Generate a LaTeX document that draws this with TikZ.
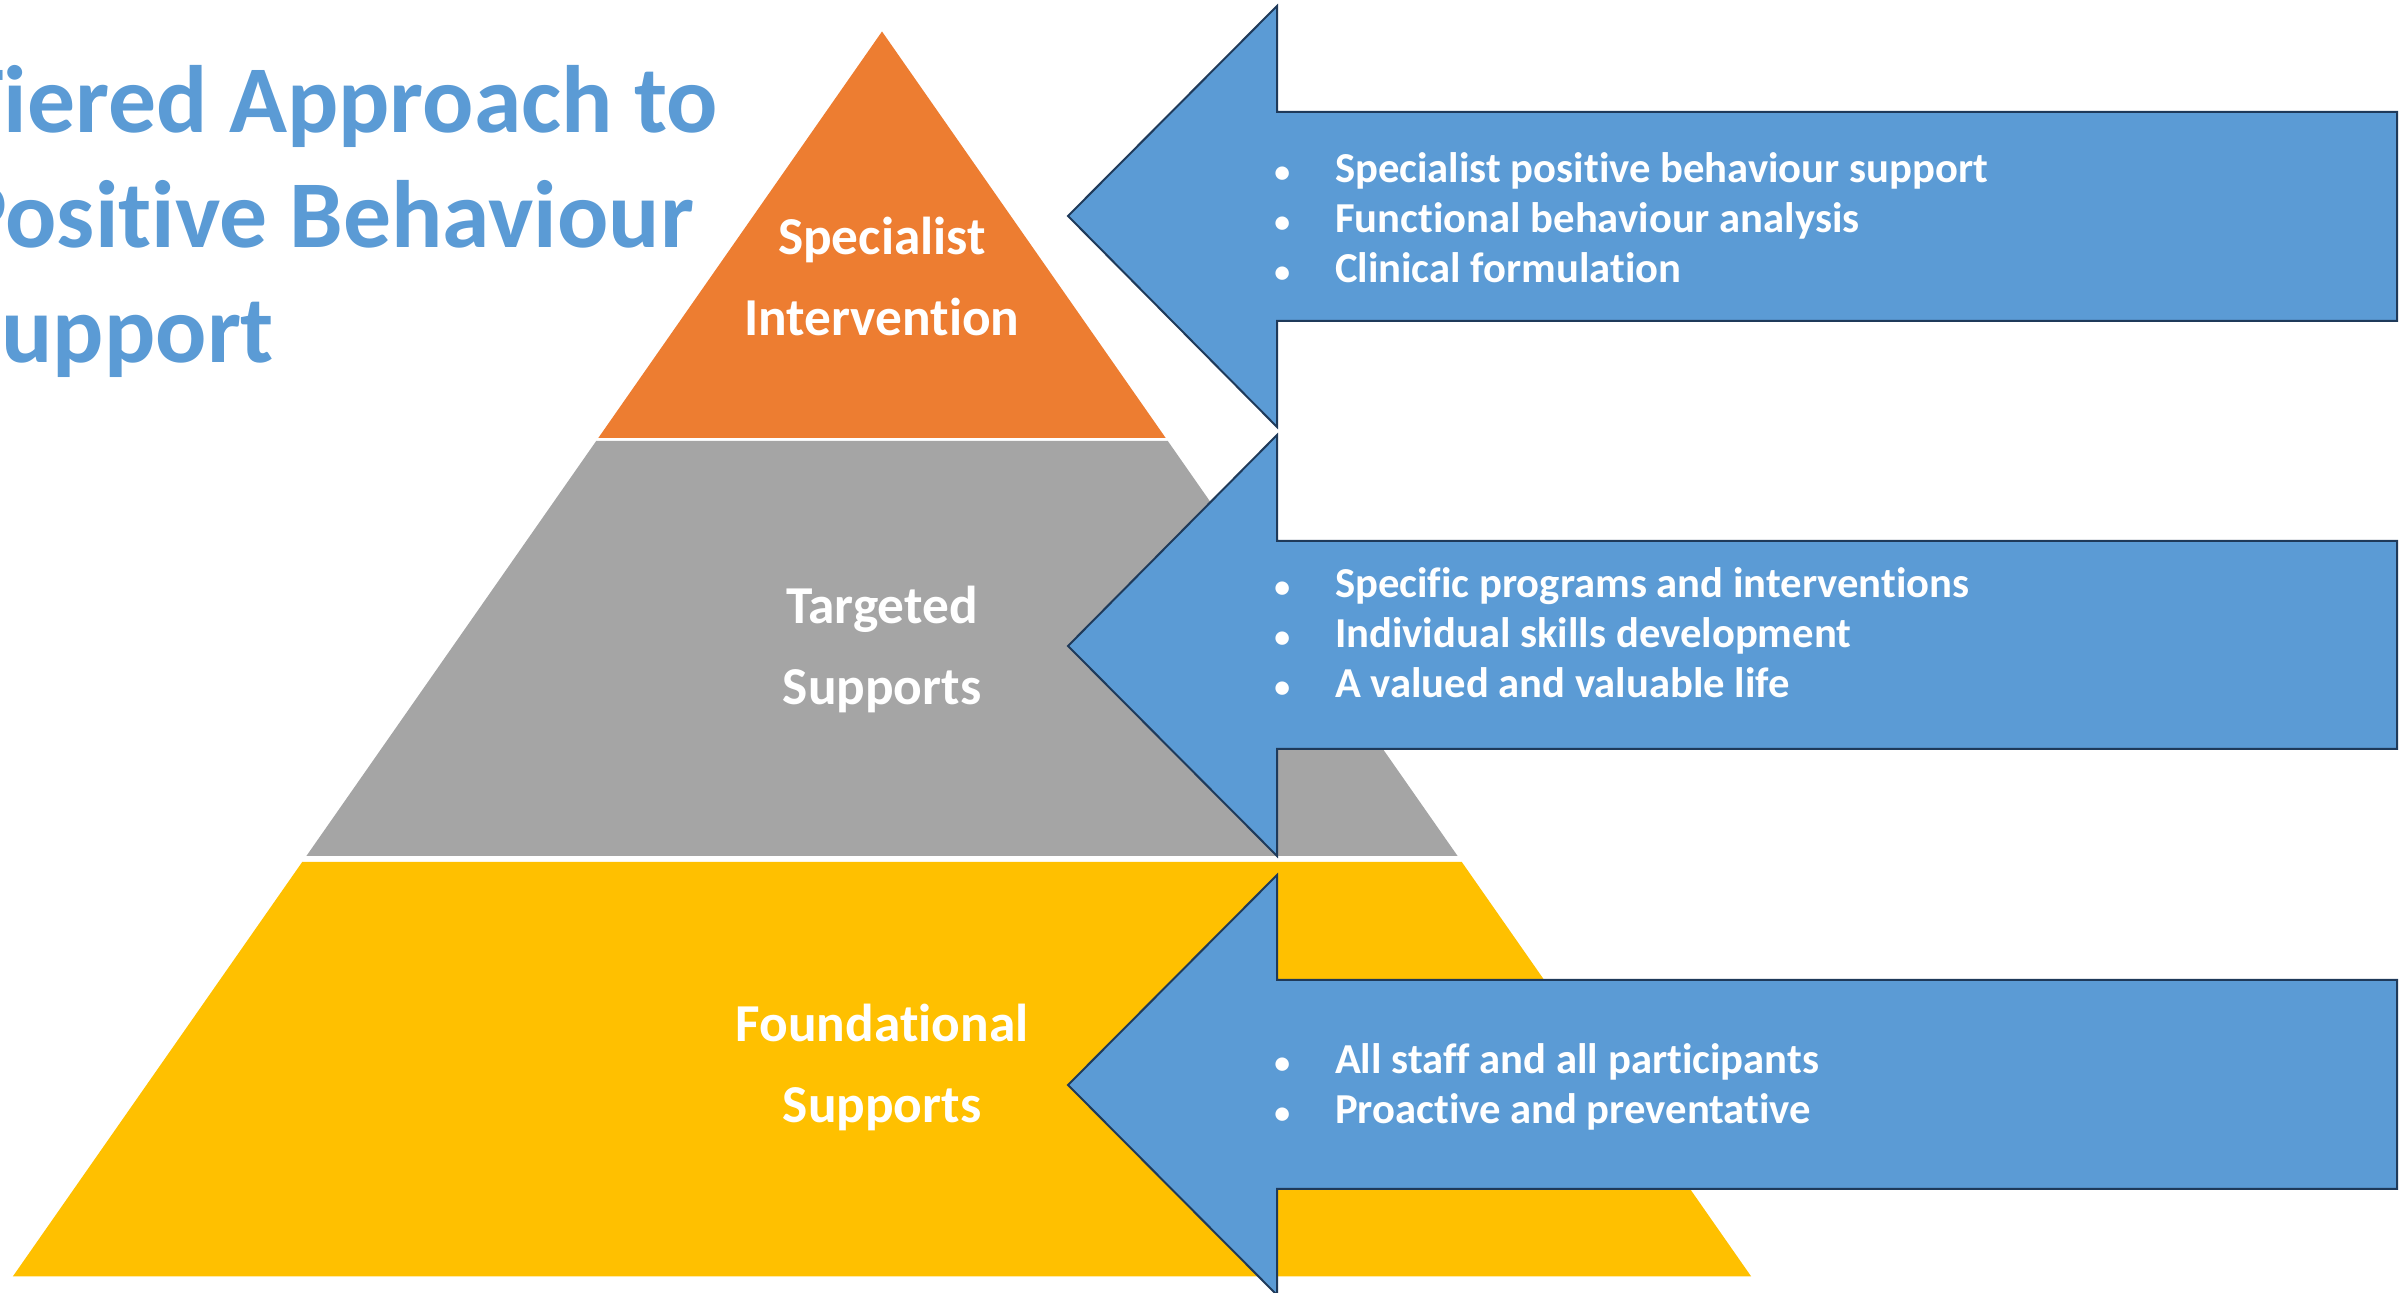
\documentclass[tikz,border=0pt]{standalone}
\usepackage{fontspec}
\setmainfont{Carlito}[RawFeature=-liga]
\definecolor{tierorange}{HTML}{ED7D31}
\definecolor{tiergrey}{HTML}{A5A5A5}
\definecolor{tieryellow}{HTML}{FFC000}
\definecolor{arrowblue}{HTML}{5B9BD5}
\definecolor{arrowline}{HTML}{1F3A5A}
\tikzset{
  tierlabel/.style={text=white, align=center, inner sep=0pt, font=\fontsize{16}{24.3}\selectfont\bfseries},
  titleline/.style={text=arrowblue, anchor=base west, inner sep=0pt, font=\fontsize{28.7}{34.5}\selectfont\bfseries},
  bulletlist/.style={text=white, anchor=base west, inner sep=0pt, font=\fontsize{12.8}{15}\selectfont\bfseries},
  bluearrow/.style={fill=arrowblue, draw=arrowline, line width=0.6pt, line join=miter}
}
\newcommand{\listdot}{\makebox[4.5pt][c]{\fontsize{9.5}{9.5}\selectfont\textbullet}}
\newcommand{\itemlist}[1]{\begin{tabular}[t]{@{}l@{\hspace{13.6pt}}l@{}}#1\end{tabular}}

\begin{document}
\begin{tikzpicture}[x=0.3pt,y=-0.3pt]
		\clip (0,0) rectangle (2399,1293); %marco
		\fill[tierorange] (882,31.5) -- (1165.7,438) -- (598.3,438) -- cycle; %nivel superior
		\fill[tiergrey] (596.2,441) -- (1167.8,441) -- (1457.6,856) -- (306.4,856) -- cycle; %nivel medio
		\fill[tieryellow] (302.2,862) -- (1461.8,862) -- (1751.2,1276.5) -- (12.8,1276.5) -- cycle; %nivel base
		\node[tierlabel] (specialist) at (882,276.5) {Specialist\\Intervention}; %etiqueta superior
		\node[tierlabel] (targeted) at (882,649.5) {Targeted\\Supports}; %etiqueta media
		\node[tierlabel] (foundational) at (882,1067.5) {Foundational\\Supports}; %etiqueta base
		\node[titleline] (title1) at (-44.5,132.7) {Tiered Approach to}; %titulo
		\node[titleline] (title2) at (-44.5,247.5) {Positive Behaviour};
		\node[titleline] (title3) at (-44.5,362.8) {Support};
		\draw[bluearrow] (1068,216) -- (1277,6) -- (1277,112) -- (2397,112) -- (2397,321) -- (1277,321) -- (1277,427) -- cycle; %flecha 1
		\draw[bluearrow] (1068,646) -- (1277,435) -- (1277,541) -- (2397,541) -- (2397,749) -- (1277,749) -- (1277,856) -- cycle; %flecha 2
		\draw[bluearrow] (1068,1085) -- (1277,875) -- (1277,980) -- (2397,980) -- (2397,1189) -- (1277,1189) -- (1277,1295) -- cycle; %flecha 3
		\node[bulletlist] (list1) at (1274,183) {\itemlist{\listdot & Specialist positive behaviour support\\ \listdot & Functional behaviour analysis\\ \listdot & Clinical formulation}}; %lista 1
		\node[bulletlist] (list2) at (1274,598) {\itemlist{\listdot & Specific programs and interventions\\ \listdot & Individual skills development\\ \listdot & A valued and valuable life}}; %lista 2
		\node[bulletlist] (list3) at (1274,1074) {\itemlist{\listdot & All staff and all participants\\ \listdot & Proactive and preventative}}; %lista 3
\end{tikzpicture}
\end{document}
